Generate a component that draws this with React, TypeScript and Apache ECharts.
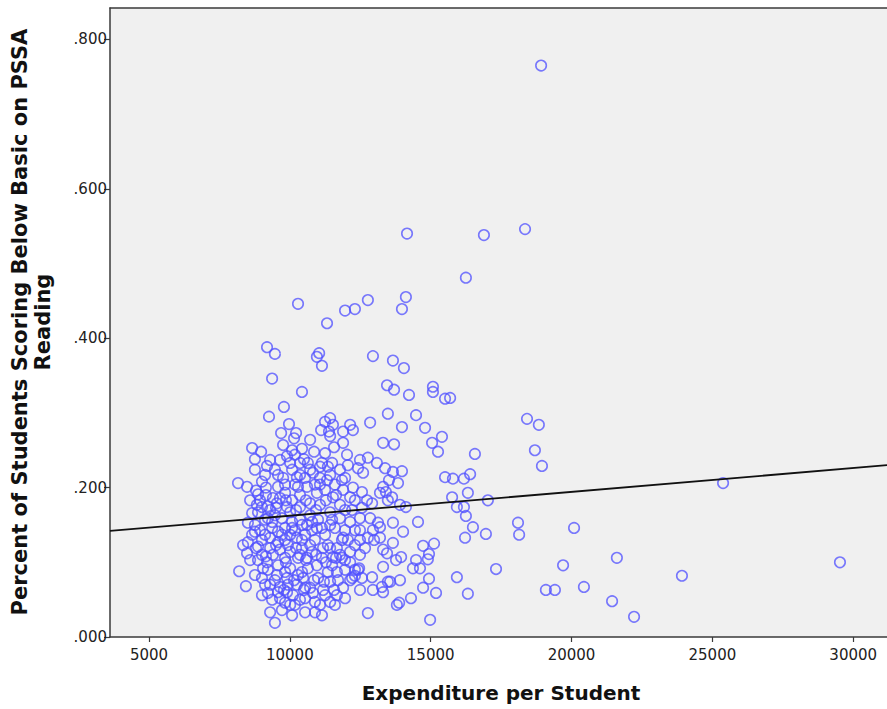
import React, { useEffect, useRef } from "react";
import * as echarts from "echarts";

// Expenditure per Student (x) vs Percent Below Basic in PSSA Reading (y)
const upperPoints: [number, number][] = [
  [18920, 0.765], [14160, 0.54], [16890, 0.538], [18350, 0.546], [16250, 0.481],
  [10290, 0.446], [12770, 0.451], [14120, 0.455], [11960, 0.437], [12310, 0.439],
  [13980, 0.439], [11320, 0.42], [9190, 0.388], [9470, 0.379], [11040, 0.38],
  [10960, 0.375], [11140, 0.363], [12950, 0.376], [13660, 0.37], [14050, 0.36],
  [9370, 0.346], [10430, 0.328], [13450, 0.337], [13700, 0.331], [14230, 0.324],
];

const midUpperPoints: [number, number][] = [
  [15080, 0.335], [15080, 0.328], [15510, 0.319], [9790, 0.308], [9260, 0.295],
  [13480, 0.299], [14480, 0.297], [9970, 0.285], [9690, 0.273], [10220, 0.273],
  [10150, 0.266], [11250, 0.288], [11430, 0.293], [11530, 0.284], [11110, 0.277],
  [11390, 0.275], [11430, 0.269], [11890, 0.275], [12140, 0.284], [12240, 0.277],
  [12850, 0.287], [13980, 0.281], [14800, 0.28], [15400, 0.268], [15050, 0.26],
  [15260, 0.248], [11890, 0.26], [13310, 0.26], [13700, 0.258],
];

const clusterMidPoints: [number, number][] = [
  [8660, 0.253], [8980, 0.248], [8760, 0.238], [9190, 0.229], [9900, 0.242],
  [10430, 0.252], [10860, 0.248], [11570, 0.254], [10500, 0.238], [11250, 0.246],
  [12030, 0.244], [12060, 0.23], [12490, 0.237], [12770, 0.24], [13090, 0.233],
  [13380, 0.226], [12420, 0.226], [12600, 0.22], [11780, 0.224], [11500, 0.233],
  [11070, 0.228], [10820, 0.22], [11320, 0.21], [11850, 0.21], [12240, 0.2],
  [12560, 0.194], [12140, 0.187], [12740, 0.183], [12920, 0.179], [13310, 0.201],
  [13200, 0.193], [13480, 0.183], [10610, 0.201], [10960, 0.193], [11530, 0.187],
  [11890, 0.197], [10720, 0.179], [13660, 0.221], [13980, 0.222], [13520, 0.21],
  [13840, 0.206], [13410, 0.194], [13630, 0.187], [13910, 0.177], [14120, 0.174],
  [14550, 0.154], [13660, 0.153], [14020, 0.141], [13200, 0.147], [13660, 0.126],
  [14730, 0.122], [15120, 0.125], [14940, 0.111], [14900, 0.104], [14480, 0.103],
  [14620, 0.092], [14370, 0.092], [13950, 0.107], [13770, 0.103], [13450, 0.112],
  [13310, 0.094], [14940, 0.078], [14730, 0.066], [15190, 0.059], [14300, 0.052],
  [13800, 0.043], [13880, 0.046], [13560, 0.074], [13910, 0.076], [14980, 0.023],
  [13310, 0.06], [15510, 0.214],
];

const clusterLeftPoints: [number, number][] = [
  [8160, 0.206], [8480, 0.201], [8800, 0.196], [8870, 0.191], [9150, 0.2],
  [9580, 0.217], [9760, 0.213], [10010, 0.233], [10080, 0.224], [9580, 0.201],
  [9830, 0.193], [9400, 0.186], [9540, 0.179], [10080, 0.183], [10290, 0.201],
  [10250, 0.214], [9220, 0.175], [9010, 0.174], [9900, 0.174], [10360, 0.174],
  [8660, 0.166], [8510, 0.153], [8760, 0.141], [8510, 0.127], [8480, 0.112],
  [8870, 0.121], [9010, 0.11], [9190, 0.1], [9050, 0.092], [8200, 0.088],
  [8440, 0.068], [9540, 0.083], [9650, 0.067], [9900, 0.079], [9300, 0.07],
  [9220, 0.059], [9580, 0.06], [9900, 0.06], [9830, 0.046], [10180, 0.043],
  [9470, 0.019], [10110, 0.056], [10250, 0.07], [10010, 0.092], [10430, 0.087],
  [9400, 0.11], [9830, 0.106], [9120, 0.137], [9370, 0.146], [9580, 0.127],
  [9930, 0.123], [10250, 0.133], [8870, 0.167], [9220, 0.159], [9720, 0.159],
  [10080, 0.154], [10430, 0.15], [9580, 0.141], [10430, 0.119], [10290, 0.106],
];

const clusterCenterPoints: [number, number][] = [
  [10610, 0.15], [10960, 0.146], [11430, 0.15], [11780, 0.159], [12140, 0.154],
  [12490, 0.159], [12850, 0.159], [13130, 0.153], [12770, 0.133], [13200, 0.133],
  [11890, 0.133], [11670, 0.119], [12140, 0.114], [12490, 0.11], [11530, 0.107],
  [11180, 0.119], [10720, 0.123], [10610, 0.106], [10960, 0.096], [12140, 0.1],
  [12420, 0.09], [12920, 0.08], [13270, 0.067], [12950, 0.063], [12490, 0.063],
  [12210, 0.079], [11670, 0.087], [11430, 0.074], [11180, 0.063], [10820, 0.059],
  [11430, 0.047], [10890, 0.047], [11140, 0.029], [12770, 0.032], [11890, 0.066],
  [11670, 0.056], [13310, 0.117], [13480, 0.074], [10470, 0.079], [10720, 0.066],
  [12310, 0.09], [12310, 0.082], [12460, 0.092], [12490, 0.143], [12950, 0.143],
  [12990, 0.13], [10360, 0.233], [10640, 0.233], [11140, 0.233], [11350, 0.228],
];

const clusterCorePoints: [number, number][] = [
  [8940, 0.183], [9300, 0.17], [9650, 0.186], [10010, 0.167], [10360, 0.19],
  [10720, 0.163], [11070, 0.177], [11430, 0.167], [11780, 0.177], [9120, 0.157],
  [9470, 0.163], [9830, 0.146], [10180, 0.143], [10540, 0.137], [10890, 0.13],
  [11250, 0.137], [11600, 0.146], [11960, 0.143], [8760, 0.15], [9010, 0.13],
  [9300, 0.119], [9650, 0.117], [10010, 0.114], [10360, 0.11], [10790, 0.114],
  [11140, 0.106], [11500, 0.096], [11850, 0.106], [8870, 0.103], [9220, 0.09],
  [9580, 0.096], [9930, 0.07], [10290, 0.083], [10640, 0.092], [11000, 0.079],
  [11350, 0.087], [11710, 0.076], [11960, 0.09], [9010, 0.079], [9370, 0.05],
  [9720, 0.036], [10080, 0.029], [10540, 0.052], [10890, 0.033], [11250, 0.056],
  [11600, 0.043], [11960, 0.052], [8660, 0.137], [8590, 0.103], [8340, 0.123],
  [10180, 0.204], [10540, 0.213], [10890, 0.204], [11250, 0.197], [11600, 0.204],
  [9650, 0.237], [10720, 0.224], [11070, 0.213], [9830, 0.13], [11000, 0.157],
  [11350, 0.123], [10010, 0.137], [10360, 0.157], [9300, 0.133], [9830, 0.087],
  [10540, 0.066], [8590, 0.183], [9010, 0.208], [9470, 0.224], [10080, 0.25],
  [10720, 0.264], [9760, 0.257], [12210, 0.17], [12560, 0.173], [12060, 0.13],
  [12310, 0.123], [12670, 0.119], [11780, 0.11], [11430, 0.119], [10790, 0.143],
];

const clusterDensePoints: [number, number][] = [
  [8830, 0.177], [9150, 0.19], [9510, 0.173], [9860, 0.183], [10220, 0.17],
  [10570, 0.183], [10930, 0.17], [11280, 0.183], [11640, 0.19], [8940, 0.143],
  [9370, 0.154], [9720, 0.137], [10080, 0.146], [10430, 0.13], [10790, 0.154],
  [11140, 0.146], [11500, 0.157], [11850, 0.13], [8800, 0.119], [9150, 0.108],
  [9510, 0.123], [9860, 0.1], [10220, 0.119], [10570, 0.103], [10930, 0.11],
  [11280, 0.1], [11640, 0.106], [8760, 0.083], [9120, 0.07], [9470, 0.076],
  [9790, 0.063], [10150, 0.076], [10500, 0.063], [10860, 0.076], [11210, 0.074],
  [11570, 0.063], [9010, 0.056], [9650, 0.052], [10360, 0.05], [11070, 0.043],
  [10010, 0.043], [9300, 0.033], [10540, 0.033], [9120, 0.217], [9830, 0.204],
  [10360, 0.217], [11070, 0.204], [11430, 0.217], [11960, 0.213], [8760, 0.224],
  [9300, 0.237], [10180, 0.244], [11960, 0.17], [12310, 0.183], [12310, 0.143],
  [12490, 0.13], [12140, 0.076], [12560, 0.079], [11960, 0.103],
];

const rightPoints: [number, number][] = [
  [15690, 0.32], [18420, 0.292], [18840, 0.284], [16570, 0.245], [18700, 0.25],
  [18950, 0.229], [15790, 0.212], [16180, 0.212], [16400, 0.218], [16320, 0.193],
  [15760, 0.187], [17030, 0.183], [15930, 0.174], [16180, 0.174], [16250, 0.162],
  [16500, 0.147], [16220, 0.133], [16960, 0.138], [18100, 0.153], [18140, 0.137],
  [20090, 0.146], [25380, 0.206], [17320, 0.091], [15930, 0.08], [16320, 0.058],
  [19700, 0.096], [21610, 0.106], [19090, 0.063], [19410, 0.063], [20440, 0.067],
  [21440, 0.048], [22220, 0.027], [23920, 0.082], [29530, 0.1],
];

// Fit line (at the plot edges)
const fitLine: [number, number][] = [
  [3615, 0.142],
  [31200, 0.23],
];

const xTicks = [5000, 10000, 15000, 20000, 25000, 30000];
const yTicks = [0, 0.2, 0.4, 0.6, 0.8];
const xRange = [3615, 31200];
const yRange = [0, 0.842];

const xTitle = "Expenditure per Student";
const yTitleLines = ["Percent of Students Scoring Below Basic on PSSA", "Reading"];

export default function App() {
  const ref = useRef<HTMLDivElement>(null);

  useEffect(() => {
    if (!ref.current) return;
    const chart = echarts.init(ref.current, undefined, { renderer: "svg" });
    const allPoints = [
      ...upperPoints,
      ...midUpperPoints,
      ...clusterMidPoints,
      ...clusterLeftPoints,
      ...clusterCenterPoints,
      ...clusterCorePoints,
      ...clusterDensePoints,
      ...rightPoints,
    ];
    const axisColor = "#3a3a3a";
    const labelFont = "DejaVu Sans";
    const titleFont = "DejaVu Sans";
    chart.setOption({
      animation: false,
      backgroundColor: "#ffffff",
      grid: {
        left: 110,
        top: 8,
        right: 0,
        bottom: 72,
        show: true,
        backgroundColor: "#f0f0f0",
        borderWidth: 0,
      },
      xAxis: [
        {
          type: "value",
          min: xRange[0],
          max: xRange[1],
          splitLine: { show: false },
          axisLine: { show: true, onZero: false, lineStyle: { color: axisColor, width: 1.5 } },
          axisTick: {
            show: true,
            length: 5,
            customValues: xTicks,
            lineStyle: { color: axisColor, width: 1.2 },
          },
          axisLabel: {
            customValues: xTicks,
            color: "#222",
            fontFamily: labelFont,
            fontSize: 15,
            margin: 10,
            formatter: (v: number) => String(v),
          },
        },
        {
          type: "value",
          position: "top",
          min: xRange[0],
          max: xRange[1],
          splitLine: { show: false },
          axisLine: { show: true, onZero: false, lineStyle: { color: axisColor, width: 1.5 } },
          axisTick: { show: false },
          axisLabel: { show: false },
        },
      ],
      yAxis: {
        type: "value",
        min: yRange[0],
        max: yRange[1],
        splitLine: { show: false },
        axisLine: { show: true, onZero: false, lineStyle: { color: axisColor, width: 1.5 } },
        axisTick: {
          show: true,
          length: 6,
          customValues: yTicks,
          lineStyle: { color: axisColor, width: 1.2 },
        },
        axisLabel: {
          customValues: yTicks,
          color: "#222",
          fontFamily: labelFont,
          fontSize: 15,
          margin: 3,
          formatter: (v: number) => v.toFixed(3).replace(/^0/, ""),
        },
      },
      graphic: [
        {
          type: "text",
          x: 501,
          y: 693,
          style: {
            text: xTitle,
            fontFamily: titleFont,
            fontWeight: "bold",
            fontSize: 20,
            fill: "#111",
            align: "center",
            verticalAlign: "middle",
          },
        },
        {
          type: "text",
          x: 20,
          y: 322,
          rotation: Math.PI / 2,
          style: {
            text: yTitleLines[0],
            fontFamily: titleFont,
            fontWeight: "bold",
            fontSize: 21,
            fill: "#111",
            align: "center",
            verticalAlign: "middle",
          },
        },
        {
          type: "text",
          x: 43,
          y: 322,
          rotation: Math.PI / 2,
          style: {
            text: yTitleLines[1],
            fontFamily: titleFont,
            fontWeight: "bold",
            fontSize: 21,
            fill: "#111",
            align: "center",
            verticalAlign: "middle",
          },
        },
      ],
      series: [
        {
          type: "scatter",
          xAxisIndex: 0,
          data: allPoints,
          symbol: "circle",
          symbolSize: 10.5,
          itemStyle: {
            color: "rgba(0,0,0,0)",
            borderColor: "rgba(80,80,255,0.95)",
            borderWidth: 1.6,
          },
          z: 2,
        },
        {
          type: "line",
          xAxisIndex: 0,
          data: fitLine,
          symbol: "none",
          lineStyle: { color: "#111", width: 1.8 },
          z: 3,
          silent: true,
        },
      ],
    });
    return () => chart.dispose();
  }, []);

  return (
    <div
      ref={ref}
      style={{ position: "fixed", left: 0, top: 0, width: 887, height: 709 }}
    />
  );
}
